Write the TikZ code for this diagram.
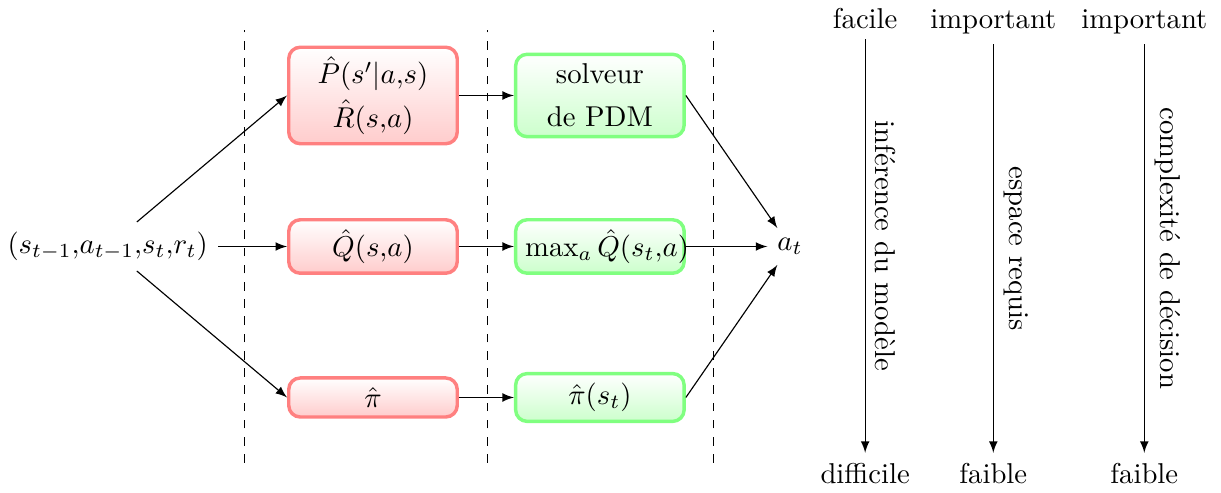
\documentclass[tikz,border=0pt]{standalone}
\usepackage{fontspec}
\usepackage{amsmath}
\usepackage{amssymb}

\begin{document}
\begin{tikzpicture}[>=latex,
  modele/.style={draw=red!50, very thick, rounded corners, top color=white, bottom color=red!20, text width=1.83cm, align=center},
  decision/.style={draw=green!50, very thick, rounded corners, top color=white, bottom color=green!20, text width=1.83cm, align=center}]
  \useasboundingbox (0,0) rectangle (14.96,6.03);
  \draw[dashed] (3.0,0.36) -- (3.0,5.66);
  \draw[dashed] (5.97,0.36) -- (5.97,5.66);
  \draw[dashed] (8.74,0.36) -- (8.74,5.66);

  \node (obs) at (1.32,3.01) {$(s_{t-1}{,}a_{t-1}{,}s_t{,}r_t)$};
  \node[modele] (PR) at (4.57,4.86) {$\hat{P}(s'|a{,}s)$\\[3pt]$\hat{R}(s{,}a)$};
  \node[modele] (Q) at (4.57,3.01) {$\hat{Q}(s{,}a)$};
  \node[modele] (pi) at (4.57,1.16) {$\hat{\pi}$};
  \node[decision] (solv) at (7.35,4.86) {solveur\\[3pt]de PDM};
  \node[decision] (maxQ) at (7.35,3.01) {$\max_a \hat{Q}(s_t{,}a)$};
  \node[decision] (pis) at (7.35,1.16) {$\hat{\pi}(s_t)$};
  \node (at) at (9.68,3.01) {$a_t$};

  \draw[->] (obs) -- (PR.west);
  \draw[->] (obs) -- (Q);
  \draw[->] (obs) -- (pi.west);
  \draw[->] (PR) -- (solv);
  \draw[->] (Q) -- (maxQ);
  \draw[->] (pi) -- (pis);
  \draw[->] (solv.east) -- (at);
  \draw[->] (maxQ.east) -- (at);
  \draw[->] (pis.east) -- (at);

  % axes de comparaison
  \node[anchor=base] (fac) at (10.6,5.68) {facile};
  \node[anchor=base] (dif) at (10.6,0.11) {difficile};
  \node[anchor=base] (imp1) at (12.17,5.68) {important};
  \node[anchor=base] (fai1) at (12.17,0.11) {faible};
  \node[anchor=base] (imp2) at (14.02,5.68) {important};
  \node[anchor=base] (fai2) at (14.02,0.11) {faible};
  \draw[->] (fac) -- (dif) node[midway, sloped, above] {inférence du modèle};
  \draw[->] (imp1) -- (fai1) node[midway, sloped, above] {espace requis};
  \draw[->] (imp2) -- (fai2) node[midway, sloped, above] {complexité de décision};
\end{tikzpicture}
\end{document}
